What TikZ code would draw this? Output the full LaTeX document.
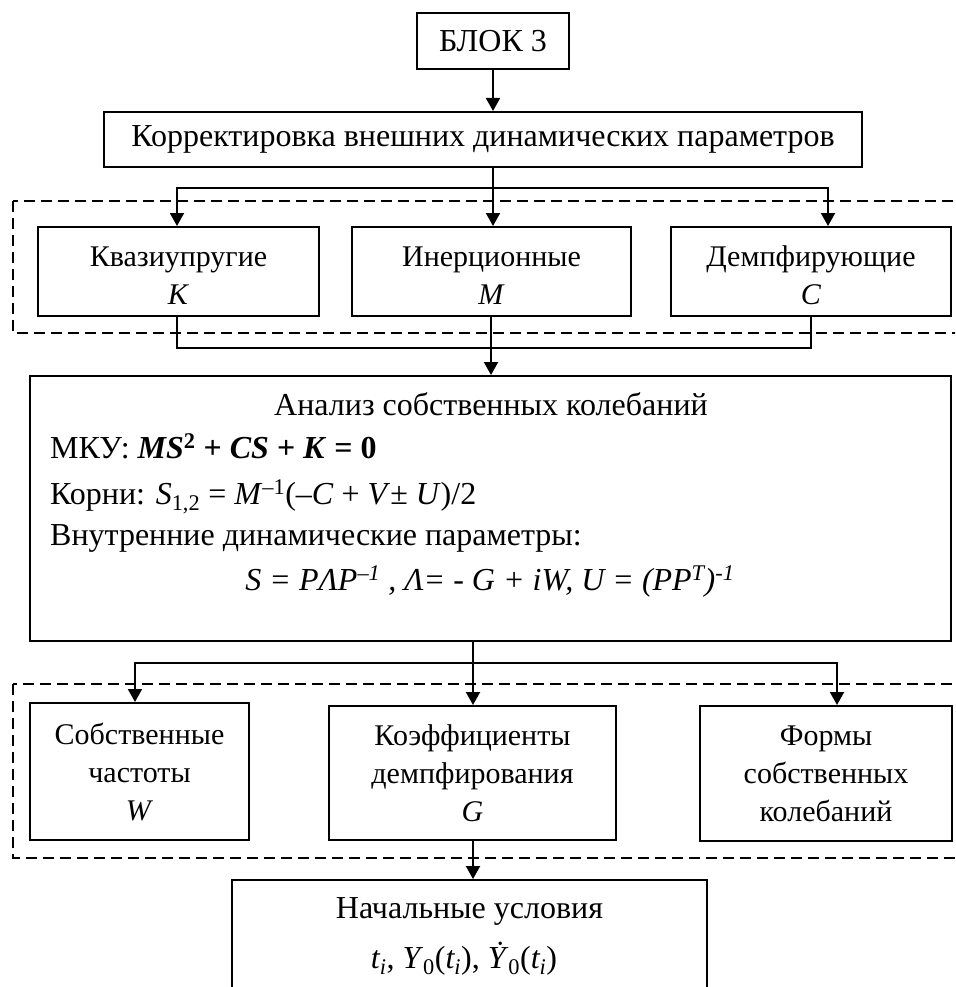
\documentclass[tikz,border=0pt]{standalone}
\usepackage{fontspec}
\setmainfont{Liberation Serif}
\usetikzlibrary{arrows.meta}
\begin{document}
\begin{tikzpicture}[x=1pt,y=-1pt,
  box/.style={draw, line width=2pt, inner sep=0pt, align=center, font=\fontsize{32}{38}\selectfont},
  sbox/.style={box, font=\fontsize{30}{38}\selectfont},
  txt/.style={inner sep=0pt, font=\fontsize{32}{38}\selectfont},
  stxt/.style={inner sep=0pt, align=center, font=\fontsize{30}{38}\selectfont},
  ln/.style={line width=2pt},
  arr/.style={line width=2pt, -{Triangle[length=13pt,width=14pt]}},
  grp/.style={draw, line width=1.8pt, dash pattern=on 11pt off 6pt}]
\clip (0,0) rectangle (955,987);
\fill[white] (0,0) rectangle (955,987);
% top
\node[box, minimum width=152pt, minimum height=56pt] (blok) at (493,41) {БЛОК 3};
\node[box, minimum width=758pt, minimum height=55pt] (corr) at (483,139.5) {Корректировка внешних динамических параметров};
% group 1
\draw[grp] (13,201) rectangle (980,333);
\node[sbox, minimum width=281pt, minimum height=89pt] (K) at (178.5,271.5) {};
\node[sbox, minimum width=279pt, minimum height=89pt] (M) at (491.5,271.5) {};
\node[sbox, minimum width=280pt, minimum height=89pt] (C) at (811,271.5) {};
\node[stxt] (Kt) at ([yshift=-4pt]K.center) {Квазиупругие\\\textit{K}};
\node[stxt] (Mt) at ([yshift=-4pt]M.center) {Инерционные\\\textit{M}};
\node[stxt] (Ct) at ([yshift=-4pt]C.center) {Демпфирующие\\\textit{C}};
% analysis
\node[box, minimum width=921pt, minimum height=265pt] (an) at (490.5,508.5) {};
\node[txt, anchor=base] (a1) at (491,415) {Анализ собственных колебаний};
\node[txt, anchor=base west] (a2) at (50,458) {МКУ: \textbf{\textit{MS}\textsuperscript{2} + \textit{CS} + \textit{K} = 0}};
\node[txt, anchor=base west] (a3) at (50,504) {Корни: \textit{S}\textsubscript{1,2} = \textit{M}\textsuperscript{–1}(–\textit{C} + \textit{V}± \textit{U})/2};
\node[txt, anchor=base west] (a4) at (50,545) {Внутренние динамические параметры:};
\node[txt, anchor=base] (a5) at (490,590) {\textit{S = PΛP\textsuperscript{–1} , Λ= - G + iW, U = (PP\textsuperscript{T})\textsuperscript{-1}}};
% group 2
\draw[grp] (13,684) rectangle (980,858);
\node[sbox, minimum width=219pt, minimum height=137pt] (W) at (139.5,771.5) {Собственные\\частоты\\\textit{W}};
\node[sbox, minimum width=287pt, minimum height=134pt] (G) at (472.5,773) {Коэффициенты\\демпфирования\\\textit{G}};
\node[sbox, minimum width=252pt, minimum height=135pt] (F) at (826,773.5) {Формы\\собственных\\колебаний};
% bottom
\node[box, minimum width=475pt, minimum height=140pt] (nach) at (469.5,950) {};
\node[txt, anchor=base] (n1) at (469.5,918) {Начальные условия};
\node[txt, anchor=base] (n2) at (464,968) {\textit{t\textsubscript{i}}, \textit{Y}\textsubscript{0}(\textit{t\textsubscript{i}}), \textit{\.{Y}}\textsubscript{0}(\textit{t\textsubscript{i}})};
% connectors
\coordinate (j1) at (493,188);
\coordinate (j2) at (491,348);
\coordinate (j3) at (473,663);
\draw[arr] (blok.south) -- (blok.south |- corr.north);
\draw[arr] ([xshift=10pt]corr.south) -- ([xshift=1.5pt]M.north);
\draw[arr] (j1) -| ([xshift=-1.5pt]K.north);
\draw[arr] (j1) -| ([xshift=17pt]C.north);
\draw[ln] ([xshift=-1.5pt]K.south) |- (j2);
\draw[ln] (C.south) |- (j2);
\draw[ln] ([xshift=-0.5pt]M.south) -- (j2);
\draw[arr] (j2) -- (j2 |- an.north);
\draw[ln] ([xshift=-17.5pt]an.south) -- (j3);
\draw[arr] (j3) -- (j3 |- G.north);
\draw[arr] (j3) -| ([xshift=-4.5pt]W.north);
\draw[arr] (j3) -| ([xshift=11pt]F.north);
\draw[arr] ([xshift=0.5pt]G.south) -- ([xshift=0.5pt]G.south |- nach.north);
\end{tikzpicture}
\end{document}
